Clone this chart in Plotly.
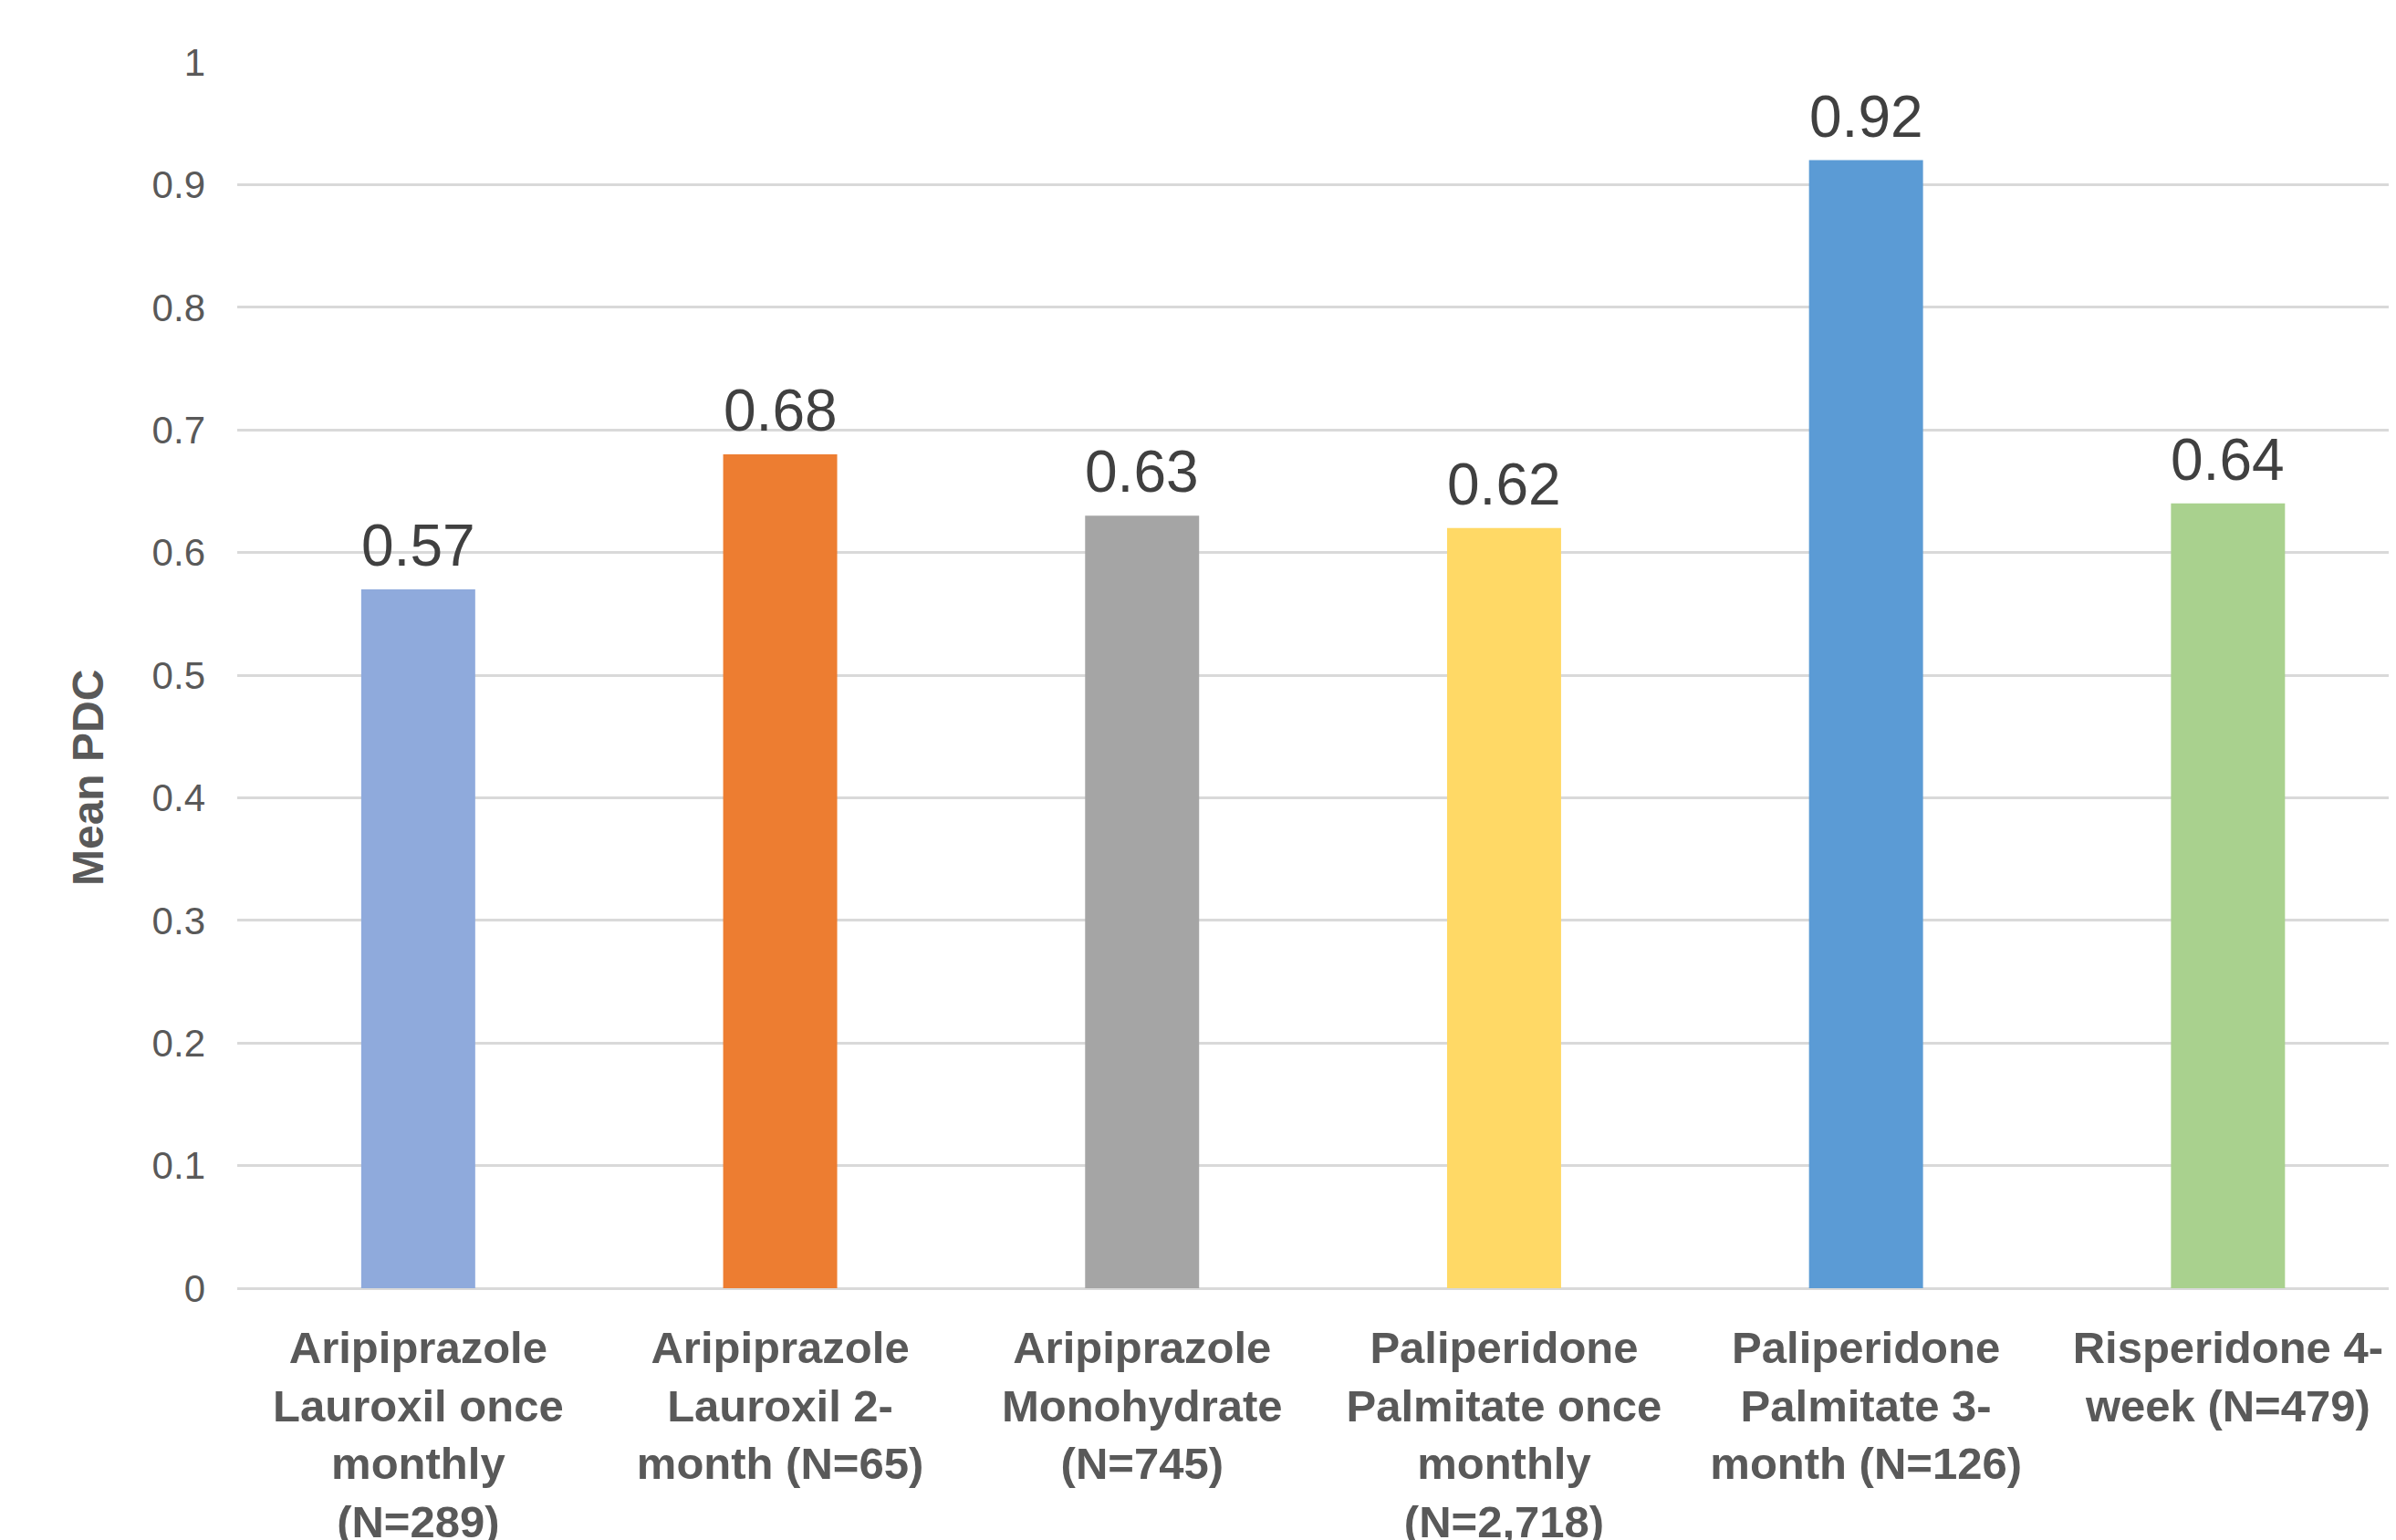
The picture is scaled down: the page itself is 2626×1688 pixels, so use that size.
import plotly.graph_objects as go

categories = [
    "Aripiprazole Lauroxil once monthly (N=289)",
    "Aripiprazole Lauroxil 2-month (N=65)",
    "Aripiprazole Monohydrate (N=745)",
    "Paliperidone Palmitate once monthly (N=2,718)",
    "Paliperidone Palmitate 3-month (N=126)",
    "Risperidone 4-week (N=479)",
]
tick_labels = [
    "Aripiprazole<br>Lauroxil once<br>monthly<br>(N=289)",
    "Aripiprazole<br>Lauroxil 2-<br>month (N=65)",
    "Aripiprazole<br>Monohydrate<br>(N=745)",
    "Paliperidone<br>Palmitate once<br>monthly<br>(N=2,718)",
    "Paliperidone<br>Palmitate 3-<br>month (N=126)",
    "Risperidone 4-<br>week (N=479)",
]
values = [0.57, 0.68, 0.63, 0.62, 0.92, 0.64]
colors = ["#8FAADC", "#ED7D31", "#A5A5A5", "#FFD966", "#5B9BD5", "#A9D18E"]
y_ticks = [0, 0.1, 0.2, 0.3, 0.4, 0.5, 0.6, 0.7, 0.8, 0.9, 1]
y_tick_text = ["0", "0.1", "0.2", "0.3", "0.4", "0.5", "0.6", "0.7", "0.8", "0.9", "1"]

W, H = 2626, 1688
OFF = 8  # page body margin
L, R, T, B = 260 - OFF, 0, 68 - OFF, 276 + OFF
PW, PH = W - L - R, H - T - B
CAT = 396.7
FONT = "Arial, Liberation Sans, sans-serif"

fig = go.Figure()
fig.add_trace(go.Bar(
    x=categories,
    y=values,
    marker=dict(color=colors, line=dict(width=0)),
    showlegend=False,
    hoverinfo="skip",
))

for c, v in zip(categories, values):
    fig.add_annotation(
        x=c, y=v, xref="x", yref="y",
        text=f"{v:.2f}", showarrow=False,
        xanchor="center", yanchor="bottom", yshift=10,
        font=dict(family=FONT, size=64, color="#404040"),
    )

fig.add_annotation(
    text="<b>Mean PDC</b>",
    xref="paper", yref="paper",
    x=(96 - 260) / PW, y=(1412 - 853) / PH,
    xanchor="center", yanchor="middle",
    textangle=-90, showarrow=False,
    font=dict(family=FONT, size=48, color="#595959"),
)

fig.update_layout(
    width=W, height=H,
    margin=dict(l=L, r=R, t=T, b=B, pad=0),
    paper_bgcolor="white", plot_bgcolor="white",
    bargap=0.685,
    font=dict(family=FONT, color="#595959"),
    xaxis=dict(
        range=[-0.5, -0.5 + PW / CAT],
        tickvals=categories,
        ticktext=[f"<b>{t}</b>".replace("<br>", "</b><br><b>") for t in tick_labels],
        tickfont=dict(family=FONT, size=49, color="#595959"),
        showgrid=False, showline=False, zeroline=False,
        ticks="", ticklabelstandoff=32, automargin=False,
        tickangle=0,
    ),
    yaxis=dict(
        range=[0, 1],
        tickvals=y_ticks, ticktext=y_tick_text,
        tickfont=dict(family=FONT, size=42, color="#595959"),
        showgrid=True, gridcolor="#D9D9D9", gridwidth=3,
        zeroline=True, zerolinecolor="#D9D9D9", zerolinewidth=3,
        showline=False, ticks="", ticklabelstandoff=34, automargin=False,
    ),
)

fig.write_html("out.html")
